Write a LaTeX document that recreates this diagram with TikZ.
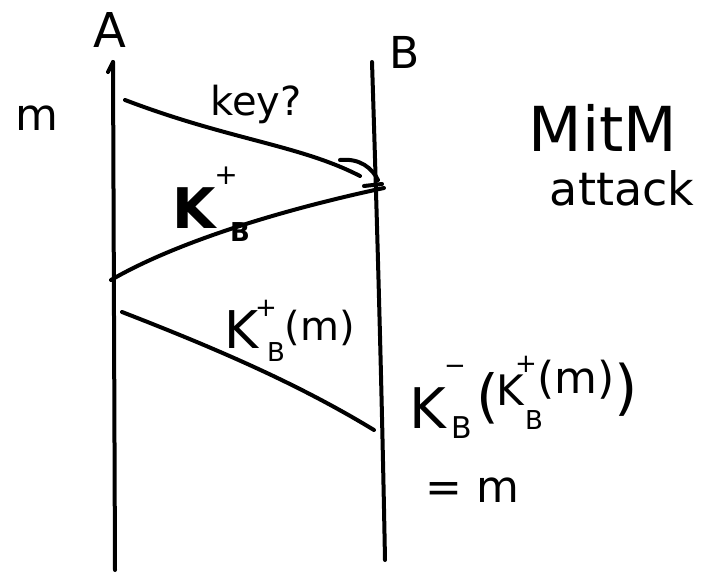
\documentclass[tikz,border=0pt]{standalone}
\usepackage{fontspec}
\setmainfont{DejaVu Sans}
\begin{document}
\begin{tikzpicture}[x=1pt,y=-1pt,
  pen/.style={line width=4pt,line cap=round,line join=round,black},
  hand/.style={font=\fontsize{#1}{#1}\selectfont,inner sep=0pt}]
\useasboundingbox (0,0) rectangle (718,575);
% lifelines
\coordinate (Atop) at (113,62);
\coordinate (Abot) at (115,570);
\coordinate (Btop) at (372,62);
\coordinate (Bbot) at (385,560);
\draw[pen] (Atop) -- (Abot);
\draw[pen] (Atop) -- (108,72);
\draw[pen] (Btop) .. controls (378,250) and (382,400) .. (Bbot);
% labels of lifelines
\node[hand=48] (lA) at (110,30) {A};
\node[hand=44] (lB) at (405,52) {B};
\node[hand=44] (lm) at (37,118) {m};
% message 1
\coordinate (m1s) at (125,100);
\coordinate (m1e) at (360,176);
\draw[pen] (m1s) .. controls (230,140) and (300,145) .. (m1e);
\draw[pen] (340,160) .. controls (360,158) and (372,168) .. (378,180);
\draw[pen] (364,186) -- (382,184);
\node[hand=40] (k1) at (256,104) {key?};
% message 2
\coordinate (m2s) at (384,188);
\coordinate (m2e) at (111,280);
\draw[pen] (m2s) .. controls (290,208) and (180,240) .. (m2e);
\node[hand=56] (k2) at (195,208) {\textbf{K}};
\node[hand=28] (k2p) at (226,176) {+};
\node[hand=26] (k2b) at (240,232) {\textbf{B}};
% message 3
\coordinate (m3s) at (122,312);
\coordinate (m3e) at (374,430);
\draw[pen] (m3s) .. controls (220,350) and (300,385) .. (m3e);
\node[hand=52] (k3) at (242,330) {K};
\node[hand=26] (k3p) at (266,308) {+};
\node[hand=26] (k3b) at (276,352) {B};
\node[hand=40] (k3m) at (320,328) {(m)};
% right side
\node[hand=56] (dK) at (428,408) {K};
\node[hand=26] (dmin) at (455,370) {−};
\node[hand=30] (dB) at (462,428) {B};
\node[hand=58] (dp) at (488,398) {(};
\node[hand=42] (dK2) at (510,390) {K};
\node[hand=26] (dK2p) at (526,364) {+};
\node[hand=26] (dK2b) at (534,420) {B};
\node[hand=44] (dm) at (576,380) {(m)};
\node[hand=60] (dq) at (626,390) {)};
\node[hand=44,anchor=west] (eqm) at (425,490) {= m};
\node[hand=62] (mitm) at (603,128) {MitM};
\node[hand=46] (att) at (622,188) {attack};
\end{tikzpicture}
\end{document}
